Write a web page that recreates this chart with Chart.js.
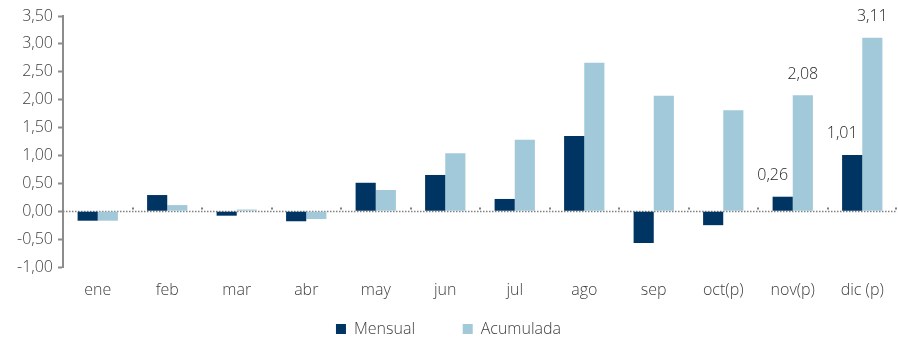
<!DOCTYPE html>
<html>
<head>
<meta charset="utf-8">
<script src="https://cdn.jsdelivr.net/npm/chart.js@4/dist/chart.umd.min.js"></script>
<style>
  html, body { margin: 0; padding: 0; background: #fff; }
  #wrap { width: 898px; height: 337px; }
</style>
</head>
<body>
<div id="wrap"><canvas id="chart"></canvas></div>
<script>
const months = ["ene", "feb", "mar", "abr", "may", "jun", "jul", "ago", "sep", "oct(p)", "nov(p)", "dic (p)"];
const mensual = [-0.17, 0.29, -0.08, -0.18, 0.51, 0.65, 0.22, 1.35, -0.57, -0.25, 0.26, 1.01];
const acumulada = [-0.17, 0.11, 0.03, -0.14, 0.38, 1.04, 1.28, 2.66, 2.07, 1.81, 2.08, 3.11];
// only these months get a value printed over the bars
const labelled = ["nov(p)", "dic (p)"];

const navy = "#003462";
const light = "#a2c9da";
const textColor = "#404040";
const font = "'Open Sans', 'Noto Sans', sans-serif";

const fmt = v => v.toFixed(2).replace(".", ",");

// dotted zero line plus the little marks between months
const zeroLine = {
  id: "zeroLine",
  beforeDatasetsDraw(chart) {
    const { ctx, chartArea, scales } = chart;
    const y0 = Math.round(scales.y.getPixelForValue(0)) + 0.5;
    const step = scales.x.getPixelForValue(1) - scales.x.getPixelForValue(0);
    ctx.save();
    ctx.strokeStyle = "#7f7f7f";
    ctx.lineWidth = 1.5;
    ctx.setLineDash([1.5, 1.5]);
    ctx.beginPath();
    ctx.moveTo(chartArea.left, y0);
    ctx.lineTo(chartArea.right, y0);
    ctx.stroke();
    ctx.setLineDash([]);
    ctx.fillStyle = "#7f7f7f";
    for (let i = 1; i <= months.length; i++) {
      const x = scales.x.getPixelForValue(i) - step / 2;
      ctx.fillRect(Math.round(Math.min(x, chartArea.right - 1)) - 1, y0 - 4, 2, 2);
    }
    ctx.restore();
  }
};

const valueLabels = {
  id: "valueLabels",
  afterDatasetsDraw(chart) {
    const { ctx } = chart;
    ctx.save();
    ctx.font = "300 16px " + font;
    ctx.fillStyle = "#262626";
    ctx.textAlign = "center";
    ctx.textBaseline = "middle";
    chart.data.datasets.forEach((ds, di) => {
      const meta = chart.getDatasetMeta(di);
      months.forEach((m, i) => {
        if (!labelled.includes(m)) return;
        const bar = meta.data[i];
        const dx = di === 0 ? -10 : 0;
        ctx.fillText(fmt(ds.data[i]), bar.x + dx, bar.y - 21);
      });
    });
    ctx.restore();
  }
};

new Chart(document.getElementById("chart"), {
  type: "bar",
  data: {
    labels: months,
    datasets: [
      { label: "Mensual", data: mensual, backgroundColor: navy },
      { label: "Acumulada", data: acumulada, backgroundColor: light }
    ]
  },
  options: {
    responsive: true,
    maintainAspectRatio: false,
    animation: false,
    datasets: { bar: { categoryPercentage: 0.58, barPercentage: 1.0 } },
    layout: { padding: { top: 16, right: 1, left: 0, bottom: -10 } },
    plugins: {
      tooltip: { enabled: false },
      legend: {
        position: "bottom",
        labels: {
          boxWidth: 10,
          boxHeight: 10,
          padding: 2,
          color: textColor,
          font: { family: font, size: 16, weight: 300 },
          // wider gap after the first entry
          generateLabels(chart) {
            const items = Chart.defaults.plugins.legend.labels.generateLabels(chart);
            items[0].text += "           ";
            return items;
          }
        }
      }
    },
    scales: {
      x: {
        grid: { display: false },
        border: { display: false },
        ticks: {
          color: textColor,
          padding: 6,
          maxRotation: 0,
          font: { family: font, size: 16, weight: 300 }
        },
        afterFit(scale) { scale.height = 52; }
      },
      y: {
        min: -1,
        max: 3.5,
        grid: {
          drawOnChartArea: false,
          tickLength: 5,
          tickColor: "#8c8c8c",
          tickWidth: 2
        },
        border: { display: true, color: "#8c8c8c", width: 2 },
        ticks: {
          stepSize: 0.5,
          padding: 5,
          color: textColor,
          font: { family: font, size: 16, weight: 300 },
          callback: v => fmt(v)
        },
        afterFit(scale) { scale.width = 63; }
      }
    }
  },
  plugins: [zeroLine, valueLabels]
});
</script>
</body>
</html>
